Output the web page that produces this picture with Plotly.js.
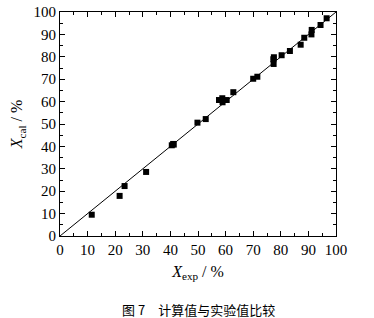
<!DOCTYPE html>
<html><head><meta charset="utf-8">
<script src="https://cdn.plot.ly/plotly-3.0.1.min.js"></script>
<style>html,body{margin:0;padding:0;background:#fff;}#chart{width:374px;height:318px;}</style>
</head><body><div id="chart"></div>
<script>
const xExp = [11.5, 21.6, 23.4, 31.2, 40.5, 41.0, 41.2, 49.8, 52.8, 57.6, 58.8, 58.9, 60.4, 62.8, 70.0, 71.5, 77.3, 77.4, 77.5, 80.3, 83.3, 87.2, 88.5, 91.1, 91.2, 94.4, 96.6];
const xCal = [9.5, 17.9, 22.3, 28.6, 40.5, 41.1, 40.8, 50.6, 52.2, 60.7, 61.5, 59.7, 60.7, 64.2, 70.2, 71.1, 78.9, 76.8, 79.8, 80.7, 82.6, 85.4, 88.5, 90.0, 92.0, 94.2, 97.2];
const lineX = [0, 100];
const lineY = [0, 100];
const tickVals = [0,10,20,30,40,50,60,70,80,90,100];

const serif = 'Liberation Serif, Times New Roman, serif';
const axisCommon = {
  range: [0, 100], tickvals: tickVals, ticks: 'inside', ticklen: 5, tickwidth: 1,
  tickcolor: '#000', showline: true, linecolor: '#000', linewidth: 1, mirror: 'ticks',
  showgrid: false, zeroline: false, fixedrange: true,
  tickfont: {family: serif, size: 15, color: '#000'},
  minor: {ticks: 'inside', ticklen: 3, dtick: 5, tickcolor: '#000', tickwidth: 1, showgrid: false}
};

const data = [
  {x: lineX, y: lineY, mode: 'lines', line: {color: '#000', width: 1}, hoverinfo: 'skip', showlegend: false},
  {x: xExp, y: xCal, mode: 'markers', marker: {symbol: 'square', size: 6, color: '#000'}, showlegend: false}
];

const layout = {
  width: 374, height: 318,
  margin: {l: 60, r: 38, t: 12, b: 82},
  paper_bgcolor: '#fff', plot_bgcolor: '#fff',
  xaxis: Object.assign({}, axisCommon, {
    title: {text: '<i>X</i><sub>exp</sub> / %', font: {family: serif, size: 16, color: '#000'}, standoff: 8}
  }),
  yaxis: Object.assign({}, axisCommon, {
    title: {text: '<i>X</i><sub>cal</sub> / %', font: {family: serif, size: 16, color: '#000'}, standoff: 6}
  }),
  annotations: [{
    text: '图 7\u3000计算值与实验值比较', xref: 'paper', yref: 'paper',
    x: 0.5, y: 0, yshift: -62, xanchor: 'center', yanchor: 'top', showarrow: false,
    font: {family: 'Noto Sans CJK SC, serif', size: 13, color: '#000'}
  }]
};

Plotly.newPlot('chart', data, layout, {displayModeBar: false, staticPlot: true});
</script></body></html>
